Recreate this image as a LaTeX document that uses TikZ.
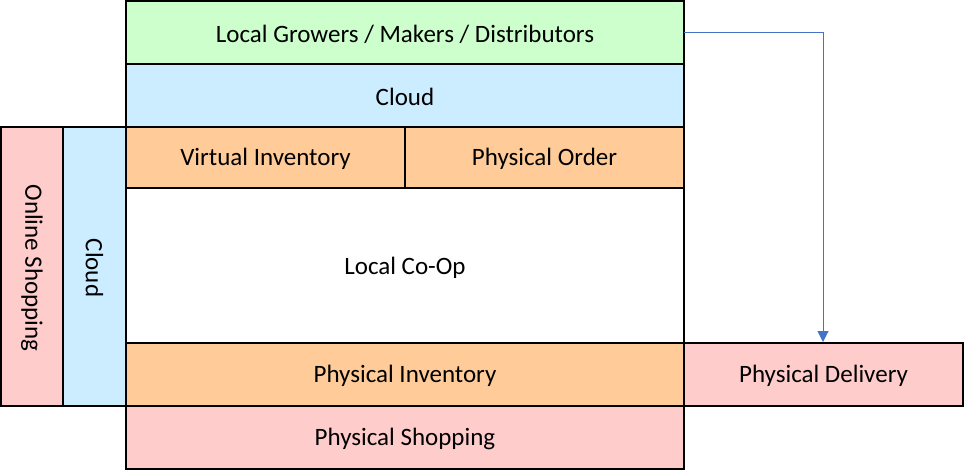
\documentclass[tikz,border=0pt]{standalone}
\usepackage{fontspec}
\setmainfont{Carlito}
\usetikzlibrary{arrows.meta}
\definecolor{cgreen}{HTML}{CCFFCC}
\definecolor{cblue}{HTML}{CCECFF}
\definecolor{corange}{HTML}{FFCC99}
\definecolor{cpink}{HTML}{FFCCCC}
\definecolor{carrow}{HTML}{4472C4}
\begin{document}
\begin{tikzpicture}[x=1pt,y=-1pt,
  blk/.style={draw=black,line width=2pt},
  lbl/.style={font=\fontsize{25}{30}\selectfont,inner sep=0pt,yshift=-1.5pt},
  conn/.style={draw=carrow,line width=1pt,-{Triangle[width=11pt,length=11pt]}}]
\useasboundingbox (0,0) rectangle (964,471);
\path[blk,fill=cgreen] (126,1) rectangle (684,64);
\node[lbl] (growers) at (405,32.5) {Local Growers / Makers / Distributors};
\coordinate (growersE) at (684,32.5);
\path[blk,fill=cblue] (126,64) rectangle (684,127);
\node[lbl] (cloudtop) at (405,95.5) {Cloud};
\path[blk,fill=corange] (126,127) rectangle (405,188);
\node[lbl] (vinv) at (265.5,157.5) {Virtual Inventory};
\path[blk,fill=corange] (405,127) rectangle (684,188);
\node[lbl] (porder) at (544.5,157.5) {Physical Order};
\path[blk,fill=white] (126,188) rectangle (684,343);
\node[lbl] (coop) at (405,266) {Local Co-Op};
\path[blk,fill=corange] (126,343) rectangle (684,406);
\node[lbl] (pinv) at (405,374.5) {Physical Inventory};
\path[blk,fill=cpink] (126,406) rectangle (684,469);
\node[lbl] (pshop) at (405,437.5) {Physical Shopping};
\path[blk,fill=cpink] (1,127) rectangle (63,406);
\node[lbl,rotate=-90] (online) at (32,266.5) {Online Shopping};
\path[blk,fill=cblue] (63,127) rectangle (126,406);
\node[lbl,rotate=-90] (cloudleft) at (94.5,266.5) {Cloud};
\path[blk,fill=cpink] (684,343) rectangle (963,406);
\node[lbl] (pdel) at (823.5,374.5) {Physical Delivery};
\coordinate (pdelN) at (823,342);
\draw[conn] (growersE) -| (pdelN);
\end{tikzpicture}
\end{document}
